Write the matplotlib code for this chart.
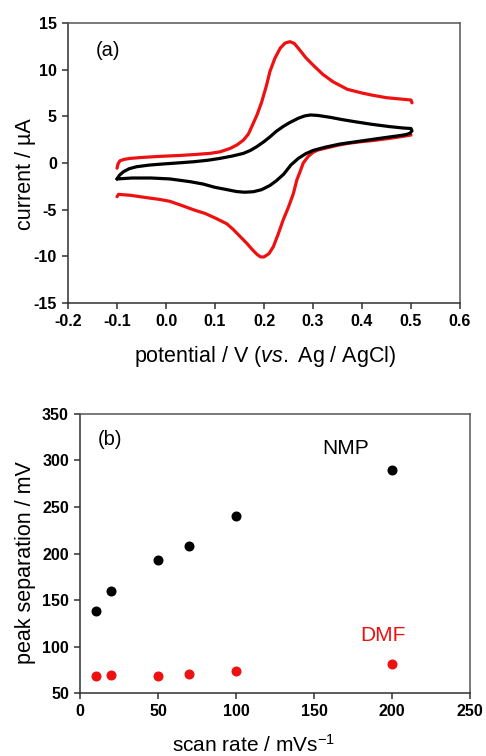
import matplotlib
matplotlib.use("Agg")
import matplotlib.pyplot as plt

plt.rcParams['font.family'] = ['Liberation Sans', 'DejaVu Sans']
plt.rcParams['mathtext.fontset'] = 'custom'
plt.rcParams['mathtext.rm'] = 'Liberation Sans'
plt.rcParams['mathtext.it'] = 'Liberation Sans:italic'

RED = '#ee1111'

# ---- (a) cyclic voltammograms: potential (V) and current (uA) ----
dmf_fwd_E = [-0.100, -0.098, -0.094, -0.085, -0.073, -0.050, -0.012, 0.030, 0.060, 0.090,
             0.110, 0.131, 0.145, 0.158, 0.168, 0.178, 0.186, 0.195, 0.205, 0.212,
             0.222, 0.233, 0.243, 0.253, 0.262, 0.273, 0.285, 0.300, 0.320, 0.341,
             0.370, 0.400, 0.423, 0.450, 0.480, 0.500, 0.502]
dmf_fwd_I = [-0.55, -0.10, 0.25, 0.40, 0.50, 0.60, 0.72, 0.82, 0.92, 1.04,
             1.20, 1.57, 1.95, 2.46, 3.10, 4.25, 5.20, 6.50, 8.30, 9.80,
             11.2, 12.3, 12.85, 13.0, 12.8, 12.1, 11.3, 10.5, 9.5, 8.7,
             7.9, 7.5, 7.25, 7.0, 6.85, 6.75, 6.45]

dmf_rev_E = [0.500, 0.470, 0.450, 0.420, 0.400, 0.370, 0.350, 0.330, 0.310, 0.300,
             0.290, 0.280, 0.273, 0.267, 0.260, 0.250, 0.239, 0.229, 0.219, 0.210,
             0.200, 0.193, 0.185, 0.175, 0.165, 0.150, 0.137, 0.124, 0.103, 0.080,
             0.056, 0.030, 0.008, -0.012, -0.040, -0.073, -0.097, -0.100]
dmf_rev_I = [3.0, 2.75, 2.6, 2.4, 2.3, 2.1, 1.9, 1.65, 1.4, 1.15,
             0.7, 0.0, -1.0, -1.8, -3.25, -4.7, -6.1, -7.6, -8.96, -9.7,
             -10.05, -10.05, -9.75, -9.2, -8.6, -7.8, -7.1, -6.5, -5.95, -5.4,
             -5.0, -4.5, -4.1, -3.9, -3.7, -3.45, -3.35, -3.6]

nmp_E = [-0.100, -0.095, -0.087, -0.075, -0.060, -0.035, -0.012, 0.020, 0.056, 0.085,
         0.110, 0.135, 0.158, 0.172, 0.185, 0.200, 0.212, 0.225, 0.240, 0.253,
         0.270, 0.283, 0.295, 0.310, 0.335, 0.360, 0.389, 0.420, 0.457, 0.485,
         0.500, 0.502, 0.498,
         0.490, 0.478, 0.450, 0.423, 0.390, 0.355, 0.325, 0.300, 0.285, 0.270,
         0.255, 0.240, 0.225, 0.212, 0.195, 0.178, 0.160, 0.144, 0.120, 0.100,
         0.076, 0.050, 0.008, -0.030, -0.070, -0.100]
nmp_I = [-1.70, -1.30, -0.93, -0.60, -0.39, -0.22, -0.12, 0.00, 0.14, 0.30,
         0.50, 0.75, 1.04, 1.35, 1.75, 2.30, 2.80, 3.40, 3.95, 4.35,
         4.80, 5.05, 5.15, 5.10, 4.90, 4.65, 4.40, 4.15, 3.90, 3.75,
         3.70, 3.45, 3.20,
         3.05, 2.95, 2.75, 2.55, 2.30, 2.04, 1.70, 1.35, 1.00, 0.50,
         -0.20, -1.20, -1.90, -2.40, -2.85, -3.07, -3.12, -3.05, -2.80, -2.60,
         -2.25, -2.00, -1.70, -1.60, -1.60, -1.70]

# ---- (b) peak separation vs scan rate ----
scan_rate = [10, 20, 50, 70, 100, 200]
sep_nmp = [138, 160, 193, 208, 240, 290]
sep_dmf = [68, 69, 68, 70, 74, 81]

fig = plt.figure(figsize=(4.86, 7.56), dpi=100)
ax1 = fig.add_axes([0.140, 0.599, 0.8065, 0.3706])
ax2 = fig.add_axes([0.1646, 0.0833, 0.8024, 0.3691])


def style(ax):
    for side in ('left', 'bottom'):
        ax.spines[side].set_color('#303030')
        ax.spines[side].set_linewidth(1.1)
    for side in ('top', 'right'):
        ax.spines[side].set_color('#555555')
        ax.spines[side].set_linewidth(1.1)
    ax.tick_params(direction='out', length=4, width=1.1, color='#303030',
                   labelsize=11.5, pad=4, top=False, right=False)
    for lab in ax.get_xticklabels() + ax.get_yticklabels():
        lab.set_fontweight('bold')


lw = 2.3
ax1.plot(dmf_fwd_E, dmf_fwd_I, color=RED, lw=lw, solid_capstyle='round', solid_joinstyle='round')
ax1.plot(dmf_rev_E, dmf_rev_I, color=RED, lw=lw, solid_capstyle='round', solid_joinstyle='round')
ax1.plot(nmp_E, nmp_I, color='black', lw=lw, solid_capstyle='round', solid_joinstyle='round')
ax1.set_xlim(-0.2, 0.6)
ax1.set_ylim(-15, 15)
ax1.set_xticks([-0.2, -0.1, 0.0, 0.1, 0.2, 0.3, 0.4, 0.5, 0.6])
ax1.set_xticklabels(['-0.2', '-0.1', '0.0', '0.1', '0.2', '0.3', '0.4', '0.5', '0.6'])
ax1.set_yticks([-15, -10, -5, 0, 5, 10, 15])
ax1.set_yticklabels(['-15', '-10', '-5', '0', '5', '10', '15'])
style(ax1)
ax1.set_ylabel('current / µA', fontsize=15.5)
ax1.yaxis.set_label_coords(-0.082, 0.46)
ax1.set_xlabel(r'potential / V ($\mathit{vs.}$ Ag / AgCl)', fontsize=15.5)
ax1.xaxis.set_label_coords(0.503, -0.145)
ax1.text(-0.118, 12.1, '(a)', fontsize=14.5, ha='center', va='center')

ax2.plot(scan_rate, sep_nmp, 'o', color='black', ms=6.2, mec='black')
ax2.plot(scan_rate, sep_dmf, 'o', color=RED, ms=6.2, mec=RED)
ax2.set_xlim(0, 250)
ax2.set_ylim(50, 350)
ax2.set_xticks([0, 50, 100, 150, 200, 250])
ax2.set_yticks([50, 100, 150, 200, 250, 300, 350])
style(ax2)
ax2.set_ylabel('peak separation / mV', fontsize=15.5)
ax2.yaxis.set_label_coords(-0.112, 0.466)
ax2.set_xlabel(r'scan rate / mVs$^{\mathregular{-1}}$', fontsize=15)
ax2.xaxis.set_label_coords(0.444, -0.148)
ax2.text(19, 323, '(b)', fontsize=14.5, ha='center', va='center')
ax2.text(170, 313, 'NMP', fontsize=15, ha='center', va='center')
ax2.text(194, 112, 'DMF', fontsize=15, ha='center', va='center', color=RED)

fig.savefig('out.png', dpi=100)
